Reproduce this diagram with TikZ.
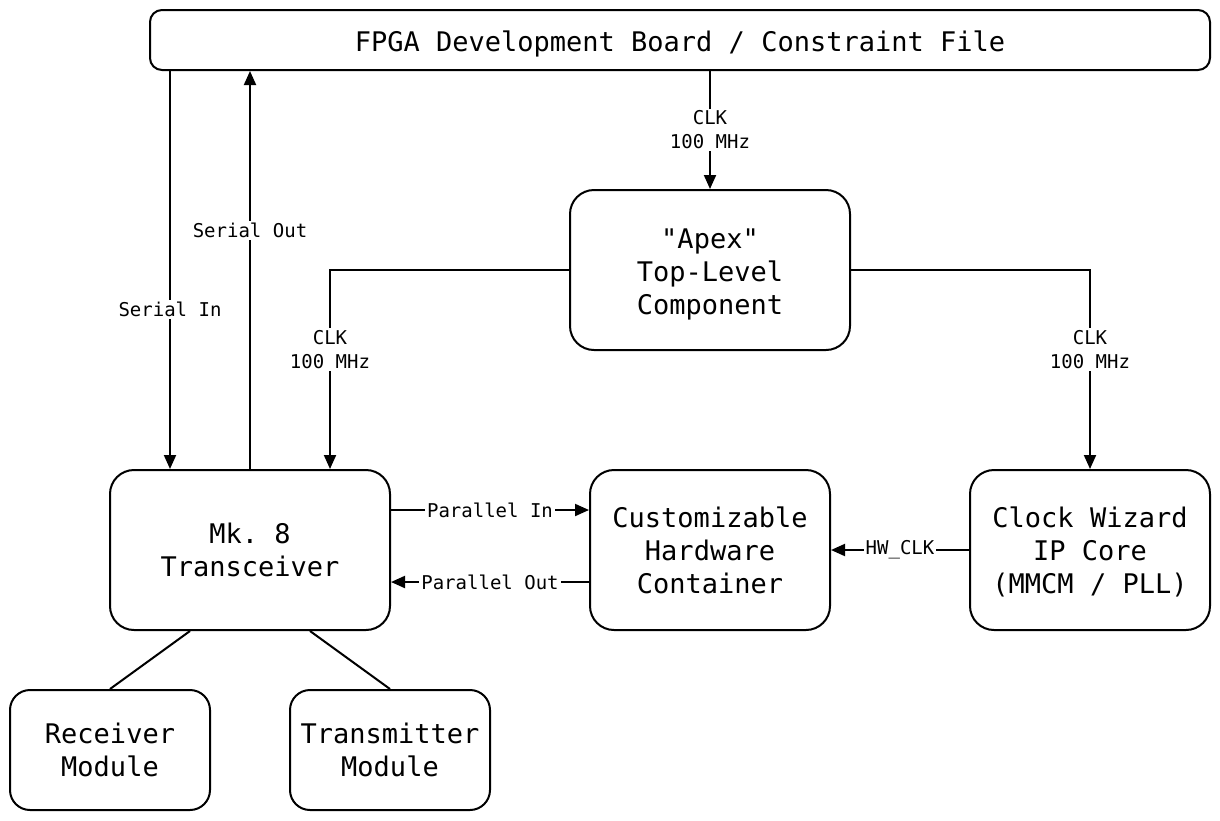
\documentclass[tikz,border=0pt]{standalone}
\usepackage{fontspec}
\setmonofont{DejaVu Sans Mono}
\usetikzlibrary{arrows.meta}
\begin{document}
\begin{tikzpicture}[x=0.5pt,y=-0.5pt,
  box/.style={draw,line width=1pt,rounded corners=12pt,align=center,
    font=\ttfamily\fontsize{13.5}{16.5}\selectfont,inner sep=0pt},
  smallbox/.style={box,rounded corners=10pt},
  boxtext/.style={align=center,font=\ttfamily\fontsize{13.5}{16.5}\selectfont,inner sep=0pt},
  lbl/.style={fill=white,font=\ttfamily\fontsize{9.5}{12}\selectfont,align=center,inner sep=1pt},
  conn/.style={line width=1pt},
  arr/.style={conn,-{Triangle[length=7pt,width=6pt]}}]
\useasboundingbox (0,0) rectangle (1220,820);

\node[box,rounded corners=6pt,minimum width=530pt,minimum height=30pt,
  label={[boxtext,yshift=-2pt]center:FPGA Development Board / Constraint File}] (fpga) at (680,40) {};
\node[box,minimum width=140pt,minimum height=80pt,
  label={[boxtext,yshift=-2pt]center:{"Apex"\\Top-Level\\Component}}] (apex) at (710,270) {};
\node[box,minimum width=140pt,minimum height=80pt] (mk8) at (250,550)
  {Mk. 8\\Transceiver};
\node[box,minimum width=120pt,minimum height=80pt] (chc) at (710,550)
  {Customizable\\Hardware\\Container};
\node[box,minimum width=120pt,minimum height=80pt,
  label={[boxtext,yshift=-1pt]center:{Clock Wizard\\IP Core\\(MMCM / PLL)}}] (clk) at (1090,550) {};
\node[smallbox,minimum width=100pt,minimum height=60pt] (rx) at (110,750)
  {Receiver\\Module};
\node[smallbox,minimum width=100pt,minimum height=60pt] (tx) at (390,750)
  {Transmitter\\Module};

\draw[arr] (fpga.south -| 170,0) -- (mk8.north -| 170,0) node[lbl,pos=0.6] {Serial In};
\draw[arr] (mk8.north -| 250,0) -- (fpga.south -| 250,0) node[lbl,pos=0.6] {Serial Out};
\draw[arr] (fpga.south -| apex.north) -- (apex.north) node[lbl,pos=0.5] {CLK\\100 MHz};
\draw[arr] (apex.west) -| (mk8.north -| 330,0) node[lbl,pos=0.7] {CLK\\100 MHz};
\draw[arr] (apex.east) -| (clk.north) node[lbl,pos=0.7] {CLK\\100 MHz};
\draw[arr] (mk8.east |- 0,510) -- (chc.west |- 0,510) node[lbl,midway] {Parallel In};
\draw[arr] (chc.west |- 0,582) -- (mk8.east |- 0,582) node[lbl,midway] {Parallel Out};
\draw[arr] (clk.west) -- (chc.east) node[lbl,midway] {HW\_CLK};
\draw[conn] (mk8.south -| 190,0) -- (rx.north);
\draw[conn] (mk8.south -| 310,0) -- (tx.north);
\end{tikzpicture}
\end{document}
